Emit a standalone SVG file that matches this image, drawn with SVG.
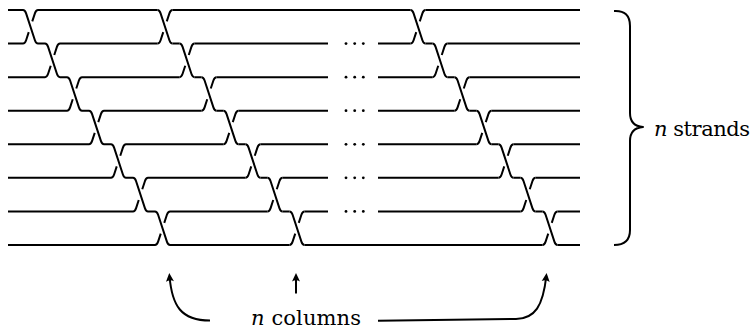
<svg xmlns="http://www.w3.org/2000/svg" width="756" height="331" viewBox="0 0 756 331">
<style>
.s{fill:none;stroke:#000;stroke-width:2;stroke-linecap:butt;stroke-linejoin:round}
.d{fill:#000}
.t{font-family:'DejaVu Serif','Liberation Serif',serif;font-size:21px;fill:#000}
</style>
<defs>
<g id="cr" class="s">
<path d="M-7.5 -16.785Q-5.5 -16.785 -4.4 -13.43L4.4 13.43Q5.5 16.785 7.5 16.785"/>
<path d="M-7.5 16.785Q-5.5 16.785 -4.4 13.43L-1.76 5.37"/>
<path d="M1.76 -5.37L4.4 -13.43Q5.5 -16.785 7.5 -16.785"/>
</g>
<marker id="ah" viewBox="-12 -5 13 10" refX="-3" refY="0" markerWidth="13" markerHeight="10" markerUnits="userSpaceOnUse" orient="auto">
<path d="M0 0L-8.5 -4Q-6 0 -8.5 4Z" fill="#000"/>
</marker>
</defs>
<g id="strands" class="s">
<path d="M8 10H23M38 10H157.5M172.5 10H410.5M425.5 10H580"/>
<path d="M8 43.57H23M38 43.57H45M60 43.57H157.5M172.5 43.57H179.5M194.5 43.57H328M378 43.57H410.5M425.5 43.57H432.5M447.5 43.57H580"/>
<path d="M8 77.14H45M60 77.14H67M82 77.14H179.5M194.5 77.14H201.5M216.5 77.14H328M378 77.14H432.5M447.5 77.14H454.5M469.5 77.14H580"/>
<path d="M8 110.71H67M82 110.71H89M104 110.71H201.5M216.5 110.71H223.5M238.5 110.71H328M378 110.71H454.5M469.5 110.71H476.5M491.5 110.71H580"/>
<path d="M8 144.29H89M104 144.29H111M126 144.29H223.5M238.5 144.29H245.5M260.5 144.29H328M378 144.29H476.5M491.5 144.29H498.5M513.5 144.29H580"/>
<path d="M8 177.86H111M126 177.86H133M148 177.86H245.5M260.5 177.86H267.5M282.5 177.86H328M378 177.86H498.5M513.5 177.86H520.5M535.5 177.86H580"/>
<path d="M8 211.43H133M148 211.43H155M170 211.43H267.5M282.5 211.43H289.5M304.5 211.43H328M378 211.43H520.5M535.5 211.43H542.5M557.5 211.43H580"/>
<path d="M8 245H155M170 245H289.5M304.5 245H542.5M557.5 245H580"/>
</g>
<g id="column1">
<use href="#cr" x="30.5" y="26.785"/>
<use href="#cr" x="52.5" y="60.355"/>
<use href="#cr" x="74.5" y="93.925"/>
<use href="#cr" x="96.5" y="127.495"/>
<use href="#cr" x="118.5" y="161.065"/>
<use href="#cr" x="140.5" y="194.635"/>
<use href="#cr" x="162.5" y="228.205"/>
</g>
<g id="column2">
<use href="#cr" x="165" y="26.785"/>
<use href="#cr" x="187" y="60.355"/>
<use href="#cr" x="209" y="93.925"/>
<use href="#cr" x="231" y="127.495"/>
<use href="#cr" x="253" y="161.065"/>
<use href="#cr" x="275" y="194.635"/>
<use href="#cr" x="297" y="228.205"/>
</g>
<g id="column3">
<use href="#cr" x="418" y="26.785"/>
<use href="#cr" x="440" y="60.355"/>
<use href="#cr" x="462" y="93.925"/>
<use href="#cr" x="484" y="127.495"/>
<use href="#cr" x="506" y="161.065"/>
<use href="#cr" x="528" y="194.635"/>
<use href="#cr" x="550" y="228.205"/>
</g>
<g id="ellipses" class="d">
<circle cx="346" cy="43.57" r="1.4"/><circle cx="354.7" cy="43.57" r="1.4"/><circle cx="363.3" cy="43.57" r="1.4"/>
<circle cx="346" cy="77.14" r="1.4"/><circle cx="354.7" cy="77.14" r="1.4"/><circle cx="363.3" cy="77.14" r="1.4"/>
<circle cx="346" cy="110.71" r="1.4"/><circle cx="354.7" cy="110.71" r="1.4"/><circle cx="363.3" cy="110.71" r="1.4"/>
<circle cx="346" cy="144.29" r="1.4"/><circle cx="354.7" cy="144.29" r="1.4"/><circle cx="363.3" cy="144.29" r="1.4"/>
<circle cx="346" cy="177.86" r="1.4"/><circle cx="354.7" cy="177.86" r="1.4"/><circle cx="363.3" cy="177.86" r="1.4"/>
<circle cx="346" cy="211.43" r="1.4"/><circle cx="354.7" cy="211.43" r="1.4"/><circle cx="363.3" cy="211.43" r="1.4"/>
</g>
<g id="brace">
<path class="s" d="M614 11Q630 10 630 26L630 113Q630 126 643 127Q630 128 630 141L630 230Q630 245 614 245"/>
<text class="t" x="654" y="136" textLength="96"><tspan font-style="italic">n</tspan> strands</text>
</g>
<g id="connectors" class="s">
<path d="M210 320.5C181 320.5 172 306 169.5 276" marker-end="url(#ah)"/>
<path d="M296 293.5L296 276" marker-end="url(#ah)"/>
<path d="M378 320.7L516 319C535 318.5 543 306 546.3 276" marker-end="url(#ah)"/>
</g>
<g id="label-columns">
<text class="t" x="251" y="325" textLength="110"><tspan font-style="italic">n</tspan> columns</text>
</g>
</svg>
